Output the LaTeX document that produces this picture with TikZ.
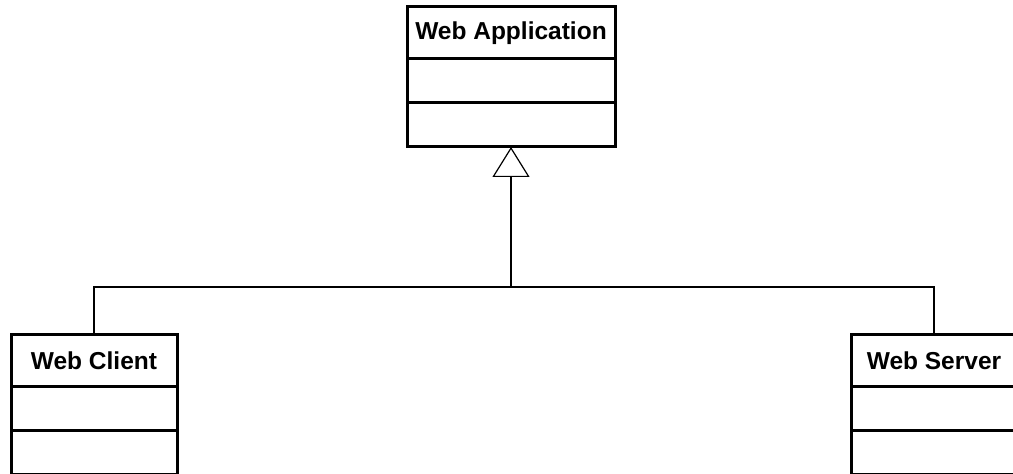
\documentclass[tikz,border=0pt]{standalone}
\usepackage{fontspec}
\setmainfont{Liberation Sans}
\usetikzlibrary{positioning, arrows.meta}

\tikzset{
    classname/.style={draw, line width=3pt, outer sep=0pt, minimum height=52pt,
        font=\bfseries\fontsize{24.5}{29}\selectfont},
    classpart/.style={draw, line width=3pt, outer sep=0pt, minimum height=44pt},
    link/.style={draw, line width=1.2pt},
}

\begin{document}
\begin{tikzpicture}[x=1pt, y=1pt]
    \useasboundingbox (0, 0) rectangle (1013, 474);

    % parent class
    \node[classname, minimum width=208pt] (app) at (511, 441) {Web Application};
    \node[classpart, minimum width=208pt, below=0pt of app] (appattr) {};
    \node[classpart, minimum width=208pt, below=0pt of appattr] (appops) {};

    % child classes
    \foreach \name/\x/\txt in {client/94/Web Client, server/934/Web Server} {
        \node[classname, minimum width=166pt] (\name) at (\x, 113) {\txt};
        \node[classpart, minimum width=166pt, below=0pt of \name] (\name attr) {};
        \node[classpart, minimum width=166pt, below=0pt of \name attr] (\name ops) {};
    }

    % generalisation
    \coordinate (joint) at (511, 187);
    \draw[link] (client.north) |- (joint) -| (server.north);
    \draw[link, -{Triangle[open, length=30pt, width=37pt]}] (joint) -- (appops.south);
\end{tikzpicture}
\end{document}
